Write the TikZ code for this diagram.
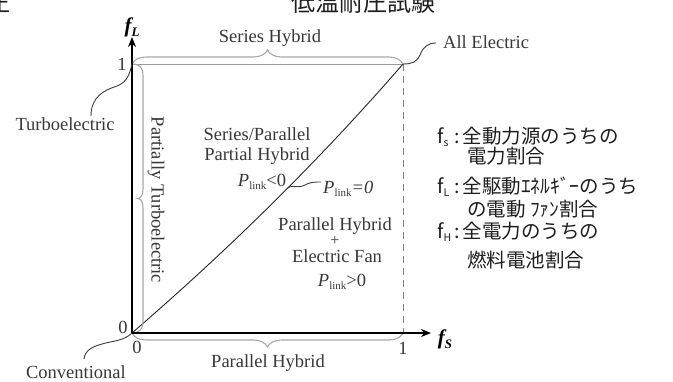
\documentclass[tikz,border=0pt]{standalone}
\usepackage{fontspec}
\setmainfont{Liberation Serif}
\newfontfamily\cjk{Noto Sans CJK JP}
\usetikzlibrary{decorations.pathreplacing,arrows.meta,calc}
\definecolor{txt}{HTML}{383838}
\definecolor{jptxt}{HTML}{1E1E1E}
\definecolor{brgray}{HTML}{A8A8A8}
\definecolor{edgegr}{HTML}{9A9A9A}
\definecolor{leadc}{HTML}{3C3C3C}
\definecolor{dashc}{HTML}{808080}
\newcommand\Plink{{\itshape P}\raisebox{-3pt}{\fontsize{11}{11}\selectfont link}}
\newcommand\jsub[1]{\raisebox{-3pt}{\fontsize{10.5}{10.5}\selectfont #1}}
\begin{document}
\begin{tikzpicture}[x=1pt,y=-1pt,
  lbl/.style={text=txt,font=\fontsize{18.5}{18.5}\selectfont,inner sep=0pt},
  jp/.style={text=jptxt,font=\cjk\fontsize{19.5}{19.5}\selectfont,inner sep=0pt,anchor=base west},
  axisline/.style={line width=2.6pt,{Stealth[length=10pt,width=8pt]}-{Stealth[length=10pt,width=8pt]}},
  brc/.style={draw=brgray,line width=1.1pt,decorate,decoration={brace,amplitude=14pt}},
  brplain/.style={draw=brgray,line width=1.1pt},
  edgeline/.style={draw=edgegr,line width=1pt},
  dashv/.style={draw=dashc,line width=1pt,dash pattern=on 7pt off 5pt},
  diag/.style={draw=black!85,line width=0.9pt},
  lead/.style={draw=leadc,line width=0.9pt},
]
\fill[white] (0,0) rectangle (673,381);
\useasboundingbox (0,0) rectangle (673,381);

% title fragments (cut at top)
\node[jp,anchor=base,font=\cjk\fontsize{24}{24}\selectfont] (title) at (363,11) {低温耐圧試験};
\node[jp,anchor=base east,font=\cjk\fontsize{24}{24}\selectfont] (tl) at (11,11) {圧};

\coordinate (O) at (132,333);
\coordinate (Y1) at (132,64);
\coordinate (X1) at (403,333);
\coordinate (A) at (403,64);
\coordinate (Yt) at (132,37);
\coordinate (Xt) at (431,333);

% square edges
\draw[edgeline] (Y1) -- (A);
\draw[dashv] (A) -- (X1);
\draw[diag] (O) .. controls (228,250) and (318,162) .. coordinate[pos=0.56] (pz) (A);

% braces
\draw[brc] (Y1) -- (A);
\draw[brc] (X1) -- (O);
\draw[brplain] (Y1) .. controls (140,64) and (143,68) .. (143,76) -- (143,189)
  .. controls (143,195) and (141,198.5) .. (137.5,198.5)
  .. controls (141,198.5) and (143,202) .. (143,208) -- (143,321)
  .. controls (143,329) and (140,333) .. (O);

% axes
\draw[axisline] (Yt) -- (O) -- (Xt);

% labels
\node[inner sep=0pt,text=black] (fl) at (132,27) {{\fontsize{21}{21}\selectfont\bfseries\itshape f}\raisebox{-4pt}{\fontsize{13}{13}\selectfont\bfseries\itshape L}};
\node[inner sep=0pt,text=black] (fs) at (445,339) {{\fontsize{21}{21}\selectfont\bfseries\itshape f}\raisebox{-4pt}{\fontsize{13}{13}\selectfont\bfseries\itshape S}};
\node[lbl] (n1y) at (122,64) {1};
\node[lbl] (n0y) at (123,327) {0};
\node[lbl] (n0x) at (137,347) {0};
\node[lbl] (n1x) at (403,348) {1};

\node[lbl,anchor=base] (sh) at (270,42) {Series Hybrid};
\node[lbl,anchor=base] (turbo) at (65,130) {Turboelectric};
\node[lbl,anchor=base west] (ae) at (443,48) {All Electric};
\node[lbl,anchor=base] (conv) at (76,378) {Conventional};
\node[lbl,anchor=base] (ph) at (268,367) {Parallel Hybrid};
\node[lbl,rotate=-90] (pt) at (156,200) {Partially Turboelectric};
\node[lbl,anchor=base] (sp1) at (257,140) {Series/Parallel};
\node[lbl,anchor=base] (sp2) at (257,160) {Partial Hybrid};
\node[lbl,anchor=base] (pl1) at (262,186) {\Plink<0};
\node[lbl,anchor=base west] (pl0) at (323,193) {\Plink{\itshape =0}};
\node[lbl,anchor=base] (phe1) at (335,230) {Parallel Hybrid};
\node[lbl,font=\fontsize{16}{16}\selectfont] (plus) at (335,241) {+};
\node[lbl,anchor=base] (phe2) at (337,262) {Electric Fan};
\node[lbl,anchor=base] (pl2) at (342,286) {\Plink>0};

% leaders
\coordinate (tlc) at (91,116);
\coordinate (aec) at (436,43);
\coordinate (cvc) at (84,359);
\coordinate (pzc) at (321,182);
\draw[lead] (tlc) .. controls (91,96) and (105,90) .. (117,86) .. controls (128,82) and (130,72) .. (Y1);
\draw[lead] (A) .. controls (412,64) and (417,62) .. (420,55) .. controls (423,47) and (428,43) .. (aec);
\draw[lead] (O) .. controls (124,341) and (112,341) .. (102,344) .. controls (91,347) and (85,351) .. (cvc);
\draw[lead] (pz) .. controls ($(pz)+(6,-4)$) and (297,189) .. (305,185) .. controls (310,182) and (315,182) .. (pzc);

% Japanese legend
\node[jp] (k1f) at (437,143) {f\jsub{s}};
\node[jp] (k1) at (454,143) {:\hspace{3pt}全動力源のうちの};
\node[jp] (k2) at (467,163) {電力割合};
\node[jp] (k3f) at (437,193) {f\jsub{L}};
\node[jp] (k3) at (454,193) {:\hspace{3pt}全駆動ｴﾈﾙｷﾞｰのうち};
\node[jp] (k4) at (467,216) {の電動 ﾌｧﾝ割合};
\node[jp] (k5f) at (437,238) {f\jsub{H}};
\node[jp] (k5) at (454,238) {:\hspace{3pt}全電力のうちの};
\node[jp] (k6) at (467,267) {燃料電池割合};
\end{tikzpicture}
\end{document}
